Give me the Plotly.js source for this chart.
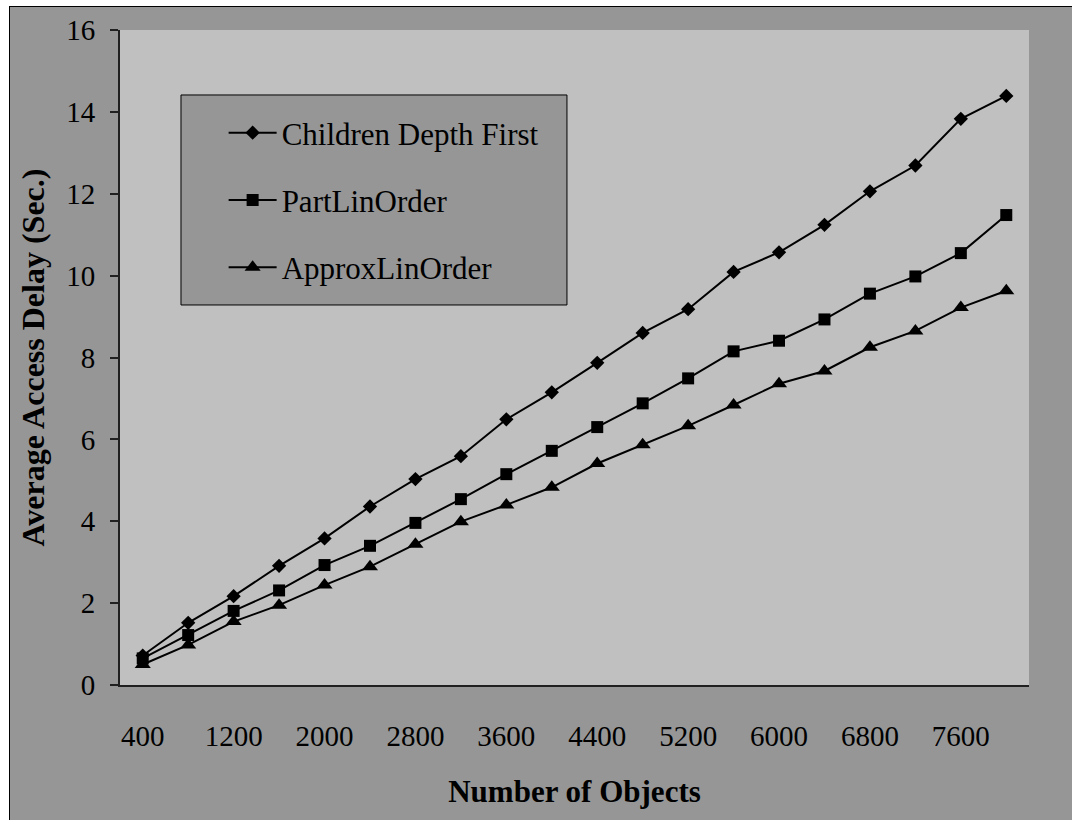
<!DOCTYPE html>
<html>
<head>
<meta charset="utf-8">
<script src="https://cdn.plot.ly/plotly-3.0.1.min.js"></script>
<style>
  html, body { margin: 0; padding: 0; background: #ffffff; width: 1072px; height: 820px; overflow: hidden; }
  #frame { position: absolute; left: 9px; top: 6px; width: 1063px; height: 814px;
           border-left: 1px solid #000; border-top: 1px solid #000; background: #969696; overflow: hidden; }
  #chart { width: 1062px; height: 813px; }
</style>
</head>
<body>
<div id="frame"><div id="chart"></div></div>
<script>
// Number of objects (category axis)
const objects = ['400', '800', '1200', '1600', '2000', '2400', '2800', '3200', '3600', '4000',
                 '4400', '4800', '5200', '5600', '6000', '6400', '6800', '7200', '7600', '8000'];

// Average access delay in seconds for each ordering strategy
const childrenDepthFirst = [0.72, 1.52, 2.17, 2.91, 3.58, 4.36, 5.03, 5.59, 6.49, 7.15,
                            7.87, 8.60, 9.18, 10.09, 10.57, 11.24, 12.06, 12.69, 13.83, 14.39];
const partLinOrder = [0.65, 1.22, 1.81, 2.31, 2.93, 3.40, 3.96, 4.54, 5.15, 5.72,
                      6.30, 6.88, 7.49, 8.15, 8.41, 8.93, 9.56, 9.98, 10.55, 11.48];
const approxLinOrder = [0.50, 0.98, 1.55, 1.95, 2.44, 2.89, 3.44, 3.99, 4.40, 4.83,
                        5.41, 5.87, 6.33, 6.84, 7.36, 7.67, 8.25, 8.65, 9.22, 9.63];

// Labelled categories on the x axis (every second one)
const xTickLabels = ['400', '1200', '2000', '2800', '3600', '4400', '5200', '6000', '6800', '7600'];

const seriesNames = ['Children Depth First', 'PartLinOrder', 'ApproxLinOrder'];

const FONT = 'Liberation Serif, Times New Roman, serif';

function series(name, values, symbol, size) {
  return {
    type: 'scatter', mode: 'lines+markers', name: name, legendgroup: name,
    x: objects, y: values,
    line: { color: '#000000', width: 2 },
    marker: { symbol: symbol, size: size, color: '#000000' }
  };
}

const traces = [
  series(seriesNames[0], childrenDepthFirst, 'diamond', 11),
  series(seriesNames[1], partLinOrder, 'square', 12),
  series(seriesNames[2], approxLinOrder, 'triangle-up', 14)
];

// Tick marks sit on the boundaries between categories
const boundaryTicks = objects.map((_, i) => i - 0.5).concat([objects.length - 0.5]);
const xRange = [-0.5, objects.length - 0.5];

const layout = {
  width: 1062, height: 813,
  margin: { l: 110, r: 43, t: 23, b: 135 },
  paper_bgcolor: '#969696',
  plot_bgcolor: '#c0c0c0',
  font: { family: FONT, color: '#000000', size: 29 },
  showlegend: true,
  legend: {
    x: 0.114, y: 0.884, xanchor: 'left', yanchor: 'top',
    bgcolor: 'rgba(0,0,0,0)', borderwidth: 0,
    font: { family: FONT, size: 31, color: '#000000' },
    traceorder: 'grouped', tracegroupgap: 24, itemwidth: 48
  },
  xaxis: {
    type: 'category', range: xRange,
    tickvals: xTickLabels, ticktext: xTickLabels,
    ticks: '', showgrid: false, zeroline: false,
    showline: true, linecolor: '#202020', linewidth: 2,
    ticklabelstandoff: 24,
    tickfont: { family: FONT, size: 29 },
    title: { text: '<b>Number of Objects</b>', font: { family: FONT, size: 31 }, standoff: 30 }
  },
  xaxis2: {
    overlaying: 'x', anchor: 'y', side: 'bottom', range: xRange,
    tickmode: 'array', tickvals: boundaryTicks, showticklabels: false,
    ticks: 'outside', ticklen: 10, tickwidth: 2, tickcolor: '#202020',
    showgrid: false, zeroline: false, showline: false
  },
  yaxis: {
    range: [0, 16], dtick: 2, tick0: 0,
    ticks: 'outside', ticklen: 8, tickwidth: 2, tickcolor: '#202020',
    showgrid: false, zeroline: false,
    showline: true, linecolor: '#202020', linewidth: 2,
    ticklabelstandoff: 9,
    tickfont: { family: FONT, size: 29 },
    title: { text: '<b>Average Access Delay (Sec.)</b>', font: { family: FONT, size: 32 }, standoff: 12 }
  },
  shapes: [{
    type: 'rect', xref: 'paper', yref: 'paper',
    x0: 0.0671, x1: 0.4917, y0: 0.5802, y1: 0.9008,
    fillcolor: '#969696', line: { color: '#000000', width: 1 }, layer: 'above'
  }]
};

Plotly.newPlot('chart', traces, layout, { staticPlot: true, displayModeBar: false });
</script>
</body>
</html>
